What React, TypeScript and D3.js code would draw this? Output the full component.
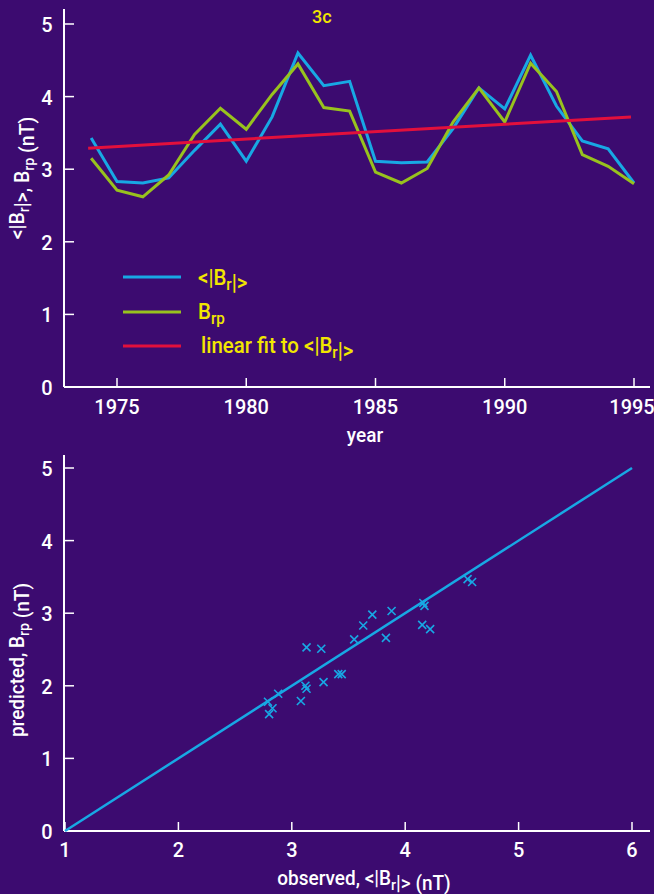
import React from 'react';
import * as d3 from 'd3';

const years = d3.range(1974, 1996);
const brMean = [3.43, 2.83, 2.81, 2.88, 3.26, 3.62, 3.11, 3.72, 4.6, 4.15, 4.21, 3.11, 3.09, 3.1, 3.56, 4.12, 3.83, 4.57, 3.87, 3.39, 3.28, 2.81];
const brp = [3.15, 2.71, 2.62, 2.92, 3.48, 3.84, 3.55, 4.03, 4.45, 3.85, 3.8, 2.96, 2.81, 3.01, 3.65, 4.12, 3.65, 4.46, 4.07, 3.2, 3.04, 2.8];
const fitEnds = [3.29, 3.72];
const topYTicks = [0, 1, 2, 3, 4, 5];
const topXTicks = [1975, 1980, 1985, 1990, 1995];

const observed = [4.55, 4.59, 4.16, 4.17, 4.15, 4.22, 3.88, 3.71, 3.63, 3.55, 3.83, 3.13, 3.26, 3.41, 3.44, 3.28, 3.12, 3.13, 3.08, 2.88, 2.79, 2.83, 2.8];
const predicted = [3.47, 3.43, 3.14, 3.1, 2.84, 2.78, 3.03, 2.98, 2.83, 2.64, 2.66, 2.53, 2.51, 2.16, 2.16, 2.05, 2.0, 1.96, 1.79, 1.89, 1.78, 1.69, 1.61];
const botXTicks = [1, 2, 3, 4, 5, 6];
const botYTicks = [0, 1, 2, 3, 4, 5];

const BG = '#3c0b70';
const BLUE = '#18a8e4';
const GREEN = '#98c21e';
const RED = '#e2103c';
const YELLOW = '#f2e600';
const FONT = 'Roboto, "Liberation Sans", sans-serif';

const Sub = ({ t, size = 15 }: { t: string; size?: number }) => (
  <>
    <tspan dy={5} fontSize={size}>{t}</tspan>
    <tspan dy={-5}></tspan>
  </>
);

// slightly narrowed text, like the original's condensed face
const T = ({ x, y, rot = 0, size = 21, fill = 'white', anchor = 'start', children }: any) => (
  <text
    transform={`translate(${x},${y}) rotate(${rot}) scale(0.95,1)`}
    fill={fill}
    fontSize={size}
    fontWeight={500}
    textAnchor={anchor}
  >
    {children}
  </text>
);

export default function App() {
  // top panel scales
  const xTop = d3.scaleLinear().domain([1975, 1995]).range([117, 634]);
  const yTop = d3.scaleLinear().domain([0, 5]).range([387, 24]);
  const line = d3
    .line<number>()
    .x((d, i) => xTop(years[i]))
    .y((d) => yTop(d));

  // bottom panel scales
  const xBot = d3.scaleLinear().domain([1, 6]).range([65, 632]);
  const yBot = d3.scaleLinear().domain([0, 5]).range([831, 468]);

  const legend = [
    { color: BLUE, y: 277 },
    { color: GREEN, y: 312 },
    { color: RED, y: 346 },
  ];

  return (
    <svg
      width={654}
      height={894}
      style={{ position: 'absolute', left: 0, top: 0, background: BG }}
      fontFamily={FONT}
    >
      <rect width={654} height={894} fill={BG} />

      {/* top panel */}
      <T x={312} y={23} fill={YELLOW} size={19}>3c</T>
      <line x1={64} x2={64} y1={9} y2={387} stroke="white" strokeWidth={2} />
      <line x1={64} x2={650} y1={387} y2={387} stroke="white" strokeWidth={2} />
      {topYTicks.map((t) => (
        <g key={t}>
          <line x1={64} x2={74} y1={yTop(t)} y2={yTop(t)} stroke="white" strokeWidth={1.5} />
          <T x={47} y={yTop(t) + 8} anchor="middle">{t}</T>
        </g>
      ))}
      {topXTicks.map((t) => (
        <g key={t}>
          <line x1={xTop(t)} x2={xTop(t)} y1={378} y2={387} stroke="white" strokeWidth={1.5} />
          <T x={Math.min(xTop(t), 632)} y={414} anchor="middle">{t}</T>
        </g>
      ))}
      <T x={365} y={442} size={20} anchor="middle">year</T>
      <T x={24} y={178} rot={-90} size={20.5} anchor="middle">
        {'<|B'}<Sub t="r" />{'|>, B'}<Sub t="rp" />{' (nT)'}
      </T>

      <path d={line(brMean) ?? ''} fill="none" stroke={BLUE} strokeWidth={3} />
      <path d={line(brp) ?? ''} fill="none" stroke={GREEN} strokeWidth={3} />
      <line
        x1={xTop(1974) - 3}
        x2={xTop(1995) - 3}
        y1={yTop(fitEnds[0])}
        y2={yTop(fitEnds[1])}
        stroke={RED}
        strokeWidth={3}
      />

      {legend.map((l) => (
        <line key={l.y} x1={123} x2={181} y1={l.y} y2={l.y} stroke={l.color} strokeWidth={3} />
      ))}
      <T x={198} y={285} fill={YELLOW} size={21.5}>{'<|B'}<Sub t="r" size={16} />{'|>'}</T>
      <T x={198} y={319} fill={YELLOW} size={21.5}>B<Sub t="rp" size={16} /></T>
      <T x={201} y={353} fill={YELLOW} size={21.5}>{'linear fit to <|B'}<Sub t="r" size={16} />{'|>'}</T>

      {/* bottom panel */}
      <line x1={64} x2={64} y1={455} y2={831} stroke="white" strokeWidth={2} />
      <line x1={64} x2={650} y1={831} y2={831} stroke="white" strokeWidth={2} />
      {botYTicks.map((t) => (
        <g key={t}>
          <line x1={64} x2={74} y1={yBot(t)} y2={yBot(t)} stroke="white" strokeWidth={1.5} />
          <T x={47} y={yBot(t) + 8} anchor="middle">{t}</T>
        </g>
      ))}
      {botXTicks.map((t) => (
        <g key={t}>
          <line x1={xBot(t)} x2={xBot(t)} y1={822} y2={831} stroke="white" strokeWidth={1.5} />
          <T x={xBot(t)} y={857} anchor="middle">{t}</T>
        </g>
      ))}
      <T x={364} y={885} size={20} anchor="middle">
        {'observed, <|B'}<Sub t="r" />{'|> (nT)'}
      </T>
      <T x={24} y={660} rot={-90} size={20} anchor="middle">
        {'predicted, B'}<Sub t="rp" />{' (nT)'}
      </T>

      <line x1={xBot(1)} x2={xBot(6)} y1={yBot(0)} y2={yBot(5)} stroke={BLUE} strokeWidth={2.5} />
      {observed.map((o, i) => {
        const cx = xBot(o);
        const cy = yBot(predicted[i]);
        return (
          <path
            key={i}
            d={`M${cx - 4},${cy - 4}L${cx + 4},${cy + 4}M${cx - 4},${cy + 4}L${cx + 4},${cy - 4}`}
            stroke={BLUE}
            strokeWidth={1.6}
          />
        );
      })}
    </svg>
  );
}
